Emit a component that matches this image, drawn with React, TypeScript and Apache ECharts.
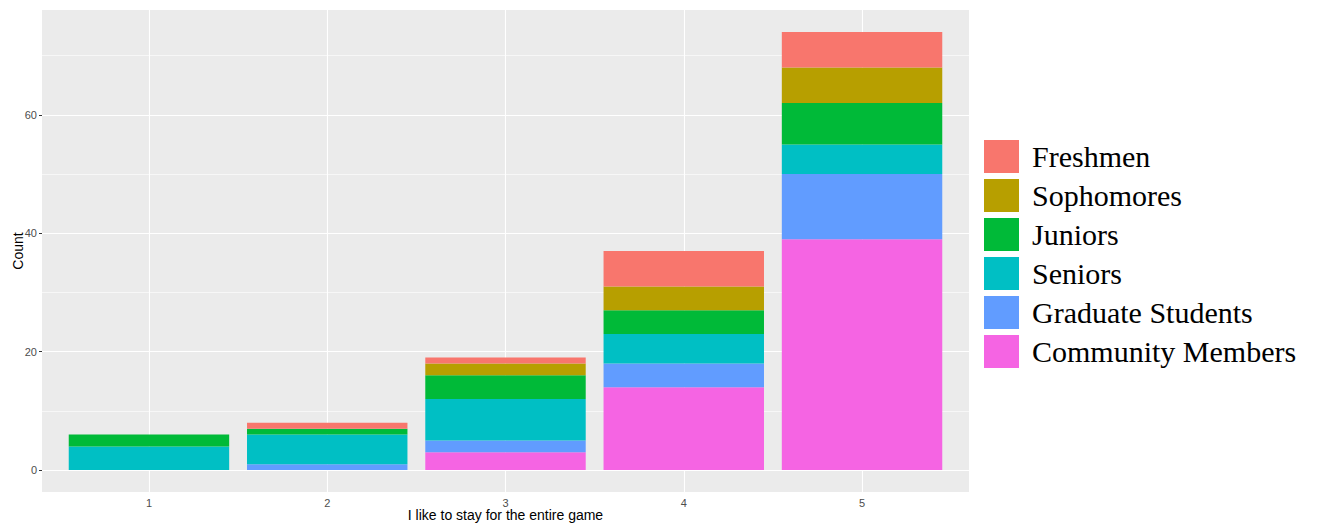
import React, { useEffect, useRef } from "react";
import * as echarts from "echarts";

const categories = ["1", "2", "3", "4", "5"];
const categoryPositions = [1, 2, 3, 4, 5];
const groups = ["Freshmen", "Sophomores", "Juniors", "Seniors", "Graduate Students", "Community Members"];
const freshmen = [0, 1, 1, 6, 6];
const sophomores = [0, 0, 2, 4, 6];
const juniors = [2, 1, 4, 4, 7];
const seniors = [4, 5, 7, 5, 5];
const graduateStudents = [0, 1, 2, 4, 11];
const communityMembers = [0, 0, 3, 14, 39];
const yTicks = [0, 20, 40, 60];
const yMinorTicks = [10, 30, 50, 70];
const colors: Record<string, string> = {
  Freshmen: "#F8766D",
  Sophomores: "#B79F00",
  Juniors: "#00BA38",
  Seniors: "#00BFC4",
  "Graduate Students": "#619CFF",
  "Community Members": "#F564E3",
};

export default function App() {
  const ref = useRef<HTMLDivElement>(null);
  useEffect(() => {
    if (!ref.current) return;
    const chart = echarts.init(ref.current, undefined, { renderer: "svg" });
    const valuesByGroup: Record<string, number[]> = {
      Freshmen: freshmen,
      Sophomores: sophomores,
      Juniors: juniors,
      Seniors: seniors,
      "Graduate Students": graduateStudents,
      "Community Members": communityMembers,
    };
    const panelLeft = 42;
    const panelWidth = 927;
    const unit = panelWidth / 5.2;
    const yMin = -3.7;
    const yMax = 77.7;
    const stackOrder = [...groups].reverse();
    const barSeries = stackOrder.map((g) => ({
      name: g,
      type: "bar",
      stack: "total",
      xAxisIndex: 1,
      yAxisIndex: 1,
      barWidth: "90%",
      z: 3,
      itemStyle: { color: colors[g] },
      data: valuesByGroup[g],
    }));
    const gridSeries = {
      type: "line",
      name: "__grid",
      xAxisIndex: 0,
      yAxisIndex: 0,
      data: [],
      z: 1,
      silent: true,
      markLine: {
        silent: true,
        z: 1,
        symbol: "none",
        label: { show: false },
        animation: false,
        data: [
          ...yMinorTicks.map((v) => ({ yAxis: v, lineStyle: { color: "#FFFFFF", width: 0.6, type: "solid" } })),
          ...yTicks.map((v) => ({ yAxis: v, lineStyle: { color: "#FFFFFF", width: 1.1, type: "solid" } })),
          ...categoryPositions.map((v) => ({ xAxis: v, lineStyle: { color: "#FFFFFF", width: 1.1, type: "solid" } })),
        ],
      },
    };
    chart.setOption({
      animation: false,
      grid: [
        {
          left: panelLeft,
          top: 10,
          width: panelWidth,
          height: 482,
          show: true,
          backgroundColor: "#EBEBEB",
          borderWidth: 0,
          containLabel: false,
          outerBoundsMode: "none",
        },
        {
          left: panelLeft + 0.1 * unit,
          top: 10,
          width: 5 * unit,
          height: 482,
          show: false,
          containLabel: false,
          outerBoundsMode: "none",
        },
      ],
      legend: {
        orient: "vertical",
        left: 984,
        top: 140,
        padding: 0,
        itemWidth: 35,
        itemHeight: 33,
        itemGap: 6,
        icon: "rect",
        data: groups,
        textStyle: {
          fontFamily: "Liberation Serif",
          fontSize: 30,
          color: "#000000",
          lineHeight: 33,
          padding: [0, 0, 0, 8],
        },
      },
      xAxis: [
        {
          type: "value",
          gridIndex: 0,
          min: 0.4,
          max: 5.6,
          name: "I like to stay for the entire game",
          nameLocation: "middle",
          nameGap: 16,
          nameMoveOverlap: false,
          nameTextStyle: { fontFamily: "Liberation Sans", fontSize: 14, color: "#000000" },
          axisLine: { show: false },
          axisTick: { show: true, length: 3, lineStyle: { color: "#333333" }, customValues: categoryPositions },
          axisLabel: {
            customValues: categoryPositions,
            margin: 5,
            fontFamily: "Liberation Sans",
            fontSize: 11,
            color: "#4D4D4D",
          },
          splitLine: { show: false },
        },
        {
          type: "category",
          gridIndex: 1,
          data: categories,
          show: false,
        },
      ],
      yAxis: [
        {
          type: "value",
          gridIndex: 0,
          min: yMin,
          max: yMax,
          name: "Count",
          nameLocation: "middle",
          nameGap: 17,
          nameRotate: 90,
          nameMoveOverlap: false,
          nameTextStyle: { fontFamily: "Liberation Sans", fontSize: 14, color: "#000000" },
          axisLine: { show: false },
          axisTick: { show: true, length: 3, lineStyle: { color: "#333333" }, customValues: yTicks },
          axisLabel: { customValues: yTicks, margin: 5, fontFamily: "Liberation Sans", fontSize: 11, color: "#4D4D4D" },
          splitLine: { show: false },
        },
        {
          type: "value",
          gridIndex: 1,
          min: yMin,
          max: yMax,
          show: false,
          splitLine: { show: false },
        },
      ],
      series: [gridSeries, ...barSeries],
    });
    return () => chart.dispose();
  }, []);
  return <div ref={ref} style={{ position: "absolute", left: 0, top: 0, width: 1317, height: 527 }} />;
}
